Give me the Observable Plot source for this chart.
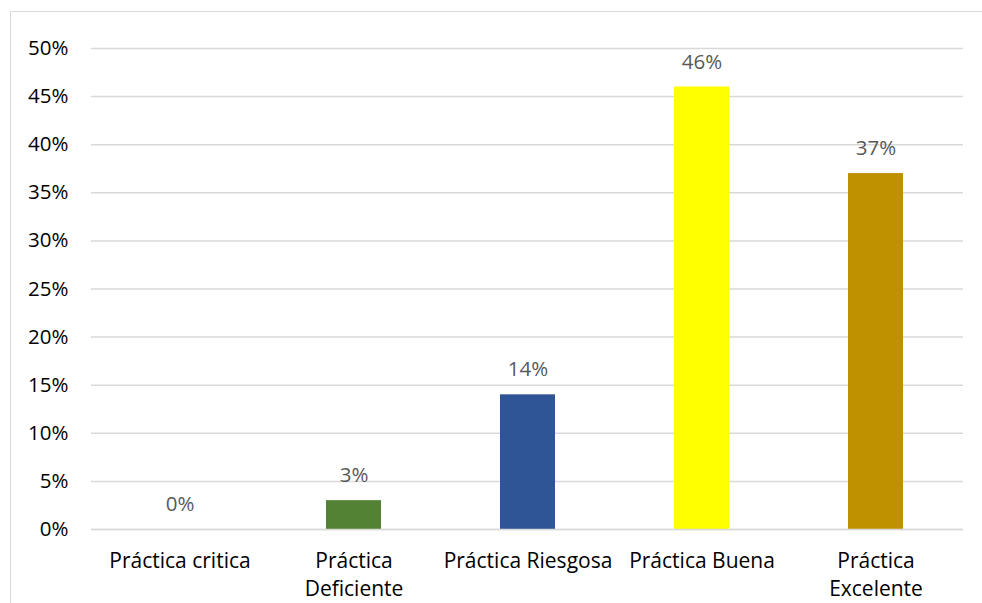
<!DOCTYPE html>
<html>
<head>
<meta charset="utf-8">
<script src="https://cdn.jsdelivr.net/npm/d3@7"></script>
<script src="https://cdn.jsdelivr.net/npm/@observablehq/plot@0.6"></script>
<style>
  html, body { margin: 0; padding: 0; background: #fff; }
  #wrap { position: relative; width: 982px; height: 603px; overflow: hidden; }
  #border { position: absolute; left: 10px; top: 11px; width: 1000px; height: 700px; border: 1px solid #d9d9d9; box-sizing: border-box; }
  #chart { position: absolute; left: 0; top: 0; }
</style>
</head>
<body>
<div id="wrap"><div id="border"></div><div id="chart"></div></div>
<script>
const categories = ["Práctica critica", "Práctica\nDeficiente", "Práctica Riesgosa", "Práctica Buena", "Práctica\nExcelente"];
const values = [0, 0.03, 0.14, 0.46, 0.37];
const colors = ["#4472c4", "#548235", "#2f5597", "#ffff00", "#bf9000"];
const yTicks = [0, 0.05, 0.10, 0.15, 0.20, 0.25, 0.30, 0.35, 0.40, 0.45, 0.50];

const data = categories.map((c, i) => ({category: c, value: values[i], color: colors[i]}));
const font = "'Open Sans', sans-serif";

const chart = Plot.plot({
  width: 982,
  height: 603,
  marginLeft: 91,
  marginRight: 19,
  marginTop: 48,
  marginBottom: 74,
  style: {fontFamily: font, fontSize: "21px", background: "transparent", color: "#000"},
  x: {domain: categories, paddingInner: 0.685, paddingOuter: 0.3425, label: null},
  y: {domain: [0, 0.5], label: null},
  marks: [
    Plot.gridY(yTicks, {stroke: "#d9d9d9", strokeOpacity: 1, strokeWidth: 1.5}),
    Plot.barY(data, {x: "category", y: "value", fill: "color"}),
    Plot.ruleY([0], {stroke: "#d9d9d9", strokeWidth: 1.5}),
    Plot.text(data, {x: "category", y: "value", text: d => Math.round(d.value * 100) + "%", dy: -25, fill: "#595959", fontSize: 20.5}),
    Plot.axisY({ticks: yTicks, tickFormat: d => Math.round(d * 100) + "%", tickSize: 0, tickPadding: 23, fontSize: 20.5, label: null}),
    Plot.axisX({tickSize: 0, tickPadding: 18.5, fontSize: 21, lineHeight: 1.33, label: null})
  ]
});
document.getElementById("chart").appendChild(chart);
</script>
</body>
</html>
